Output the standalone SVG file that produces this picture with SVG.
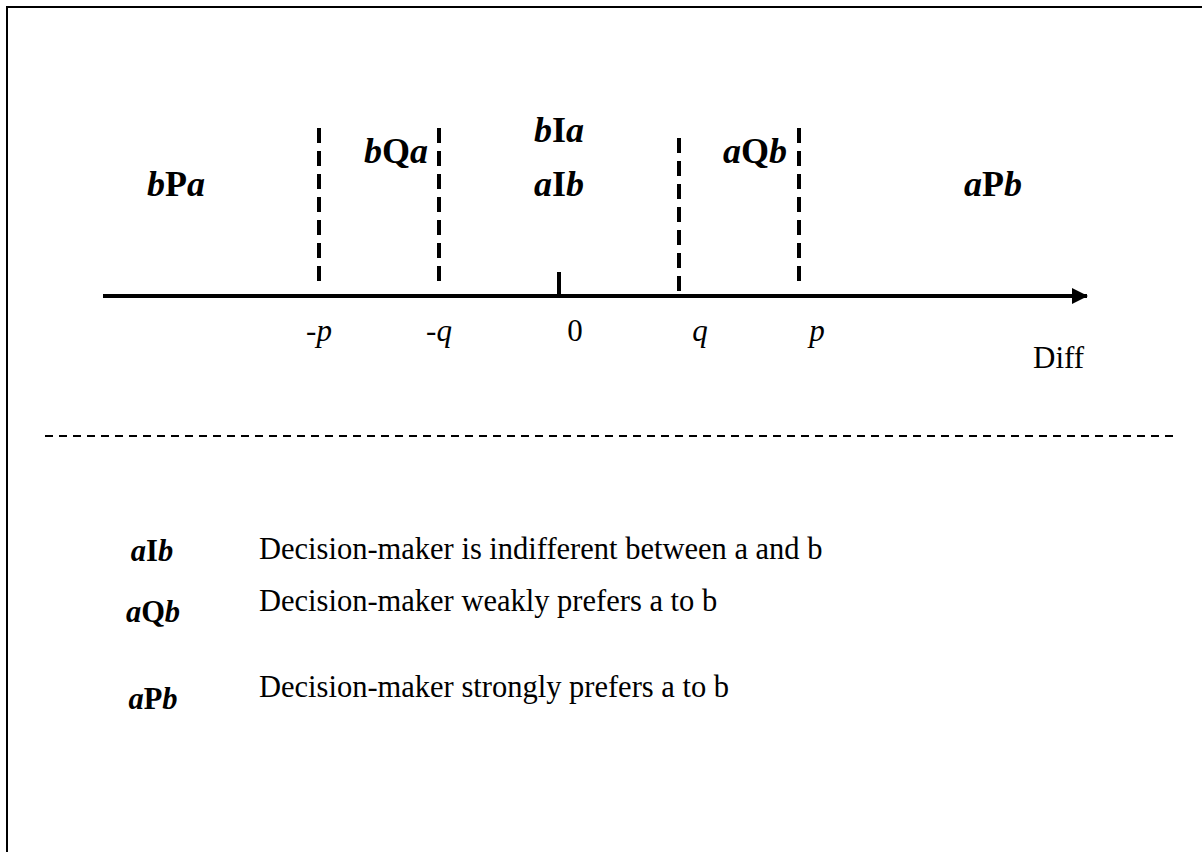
<svg xmlns="http://www.w3.org/2000/svg" width="1202" height="852" viewBox="0 0 1202 852">
<defs>
<style>
text{font-family:'Liberation Serif',serif;font-size:30.5px;fill:#000}
.lab{font-size:36px}
.tk{font-size:31px}
.bi{font-weight:bold;font-style:italic}
.b{font-weight:bold;font-style:normal}
.it{font-style:italic}
.vd{stroke:#000;stroke-width:4;stroke-dasharray:15 8;fill:none}
.sep{stroke:#000;stroke-width:2;stroke-dasharray:8 6;fill:none}
</style>
<marker id="arr" markerWidth="16" markerHeight="16" refX="15" refY="8" orient="auto" markerUnits="userSpaceOnUse">
<path d="M0,0 L16,8 L0,16 Z" fill="#000"/>
</marker>
</defs>
<rect width="1202" height="852" fill="#fff"/>
<g id="frame">
<line x1="6" y1="7" x2="1202" y2="7" stroke="#000" stroke-width="2"/>
<line x1="7" y1="6" x2="7" y2="852" stroke="#000" stroke-width="2"/>
</g>
<g id="connectors">
<line x1="103" y1="296" x2="1087" y2="296" stroke="#000" stroke-width="4" marker-end="url(#arr)"/>
<line class="vd" x1="319" y1="128" x2="319" y2="283"/>
<line class="vd" x1="439" y1="128" x2="439" y2="283"/>
<line class="vd" x1="679" y1="138" x2="679" y2="294"/>
<line class="vd" x1="799" y1="128" x2="799" y2="283"/>
<line x1="559" y1="272" x2="559" y2="296" stroke="#000" stroke-width="4"/>
<line class="sep" x1="45" y1="436" x2="1175" y2="436"/>
</g>
<g id="zone-bPa"><text class="lab" x="176" y="196" text-anchor="middle"><tspan class="bi">b</tspan><tspan class="b">P</tspan><tspan class="bi">a</tspan></text></g>
<g id="zone-bQa"><text class="lab" x="396" y="163" text-anchor="middle"><tspan class="bi">b</tspan><tspan class="b">Q</tspan><tspan class="bi">a</tspan></text></g>
<g id="zone-bIa"><text class="lab" x="559" y="142" text-anchor="middle"><tspan class="bi">b</tspan><tspan class="b">I</tspan><tspan class="bi">a</tspan></text></g>
<g id="zone-aIb"><text class="lab" x="559" y="196" text-anchor="middle"><tspan class="bi">a</tspan><tspan class="b">I</tspan><tspan class="bi">b</tspan></text></g>
<g id="zone-aQb"><text class="lab" x="755" y="163" text-anchor="middle"><tspan class="bi">a</tspan><tspan class="b">Q</tspan><tspan class="bi">b</tspan></text></g>
<g id="zone-aPb"><text class="lab" x="993" y="196" text-anchor="middle"><tspan class="bi">a</tspan><tspan class="b">P</tspan><tspan class="bi">b</tspan></text></g>
<g id="ticks">
<text class="tk it" x="319" y="341" text-anchor="middle">-p</text>
<text class="tk it" x="439" y="341" text-anchor="middle">-q</text>
<text class="tk" x="575" y="341" text-anchor="middle">0</text>
<text class="tk it" x="700" y="341" text-anchor="middle">q</text>
<text class="tk it" x="817" y="341" text-anchor="middle">p</text>
<text class="tk" x="1033" y="368">Diff</text>
</g>
<g id="legend-aIb">
<text x="152" y="561" text-anchor="middle"><tspan class="bi">a</tspan><tspan class="b">I</tspan><tspan class="bi">b</tspan></text>
<text x="259" y="559">Decision-maker is indifferent between a and b</text>
</g>
<g id="legend-aQb">
<text x="153" y="622" text-anchor="middle"><tspan class="bi">a</tspan><tspan class="b">Q</tspan><tspan class="bi">b</tspan></text>
<text x="259" y="611">Decision-maker weakly prefers a to b</text>
</g>
<g id="legend-aPb">
<text x="153" y="709" text-anchor="middle"><tspan class="bi">a</tspan><tspan class="b">P</tspan><tspan class="bi">b</tspan></text>
<text x="259" y="697">Decision-maker strongly prefers a to b</text>
</g>
</svg>
